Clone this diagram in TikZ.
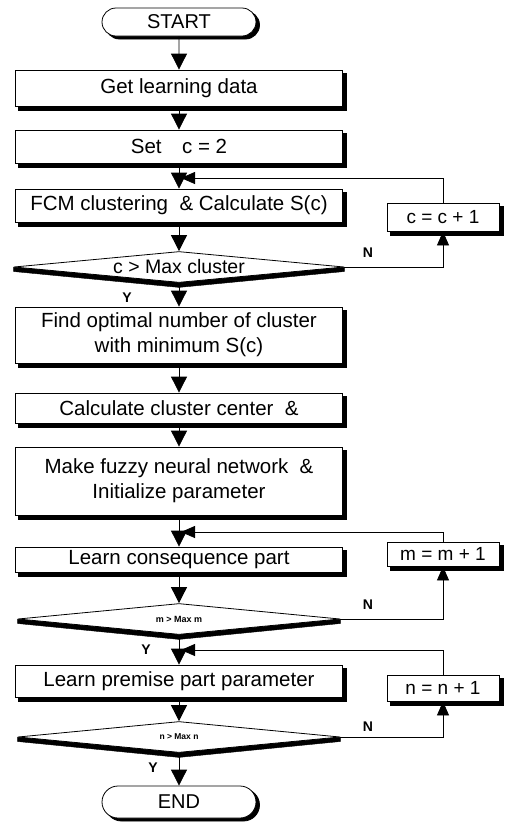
\documentclass[tikz,border=0pt]{standalone}
\usepackage{fontspec}
\setmainfont{Liberation Sans}
\usetikzlibrary{arrows.meta,shapes.geometric,shapes.misc,backgrounds}
\begin{document}
\begin{tikzpicture}[x=1pt,y=-1pt,
  proc/.style={draw,fill=white,line width=0.8pt,minimum width=327pt,inner sep=0pt,
    font=\fontsize{20.5}{25}\selectfont,align=center},
  sbox/.style={draw,fill=white,line width=0.8pt,minimum width=112pt,inner sep=0pt,
    font=\fontsize{19}{22}\selectfont},
  term/.style={draw,fill=white,line width=0.8pt,rounded rectangle,minimum width=154pt,
    inner sep=0pt,font=\fontsize{20}{23}\selectfont},
  dec/.style={draw,fill=white,line width=0.8pt,diamond,aspect=10,inner sep=0pt,
    minimum height=31pt},
  blackfill/.style={fill=black,draw=black},
  lab/.style={font=\fontsize{14}{16}\selectfont\bfseries,inner sep=0pt},
  arr/.style={line width=0.8pt,-{Triangle[width=16pt,length=16pt]}},
  larr/.style={line width=0.8pt,-{Triangle[width=12pt,length=14pt]}}
]
\path[use as bounding box] (0,0) rectangle (507,823);

\node[term,minimum height=28pt] (start) at (179,22) {START};
\node[proc,minimum height=36pt] (get) at (179,88) {Get learning data};
\node[proc,minimum height=33pt] (set) at (179,146.5) {Set\quad c = 2};
\node[proc,minimum height=33pt] (fcm) at (179,205.5) {FCM clustering \ \& Calculate S(c)};
\node[dec,minimum width=330pt,font=\fontsize{19.5}{22}\selectfont] (d1) at (179,267) {c > Max cluster};
\node[sbox,minimum height=28pt] (cinc) at (443,217) {c = c + 1};
\node[proc,minimum height=56pt] (find) at (179,335) {Find optimal number of cluster\\with minimum S(c)};
\node[proc,minimum height=30pt] (calc) at (179,408) {Calculate cluster center \ \&};
\node[proc,minimum height=68pt] (make) at (179,481) {Make fuzzy neural network \ \&\\Initialize parameter};
\node[proc,minimum height=25pt] (cons) at (179,559.5) {Learn consequence part};
\node[sbox,minimum height=24pt] (minc) at (443,554) {m = m + 1};
\node[dec,minimum width=322pt,font=\fontsize{9}{11}\selectfont\bfseries] (d2) at (179,619) {m > Max m};
\node[proc,minimum height=32pt] (prem) at (179,681) {Learn premise part parameter};
\node[sbox,minimum height=26pt] (ninc) at (443,688) {n = n + 1};
\node[dec,minimum width=322pt,font=\fontsize{8.5}{10}\selectfont\bfseries] (d3) at (179,737) {n > Max n};
\node[term,minimum height=32pt] (end) at (179,802) {END};

\begin{scope}[on background layer]
  \foreach \bx in {get,set,fcm,cinc,find,calc,make,cons,minc,prem,ninc}{
    \fill[blackfill] ([xshift=3.5pt,yshift=-3.5pt]\bx.south west) rectangle ([xshift=3.5pt,yshift=-3.5pt]\bx.north east);
  }
  \node[term,blackfill,minimum height=28pt] (starts) at ([xshift=3.5pt,yshift=-3pt]start.center) {\phantom{START}};
  \node[term,blackfill,minimum height=32pt] (ends) at ([xshift=3.5pt,yshift=-3pt]end.center) {\phantom{END}};
  \foreach \dd in {d1,d2,d3}{
    \fill[blackfill] ([yshift=-4.5pt]\dd.west) -- ([yshift=-4.5pt]\dd.south) -- ([yshift=-4.5pt]\dd.east)
      -- (\dd.east) -- (\dd.west) -- cycle;
  }
\end{scope}

\draw[arr] (start) -- (get);
\draw[arr] (get) -- (set);
\draw[arr] (set) -- (fcm);
\draw[arr] (fcm) -- (d1);
\draw[arr] (d1) -- (find);
\draw[arr] (find) -- (calc);
\draw[arr] (calc) -- (make);
\draw[arr] (make) -- (cons);
\draw[arr] (cons) -- (d2);
\draw[arr] (d2) -- (prem);
\draw[arr] (prem) -- (d3);
\draw[arr] (d3) -- (end);

\coordinate (j1) at (181,178);
\coordinate (j2) at (181,532);
\coordinate (j3) at (181,650);
\draw[larr] (cinc.north) |- (j1);
\draw[larr] (d1.east) -| (cinc.south);
\draw[larr] (minc.north) |- (j2);
\draw[larr] (d2.east) -| (minc.south);
\draw[larr] (ninc.north) |- (j3);
\draw[larr] (d3.east) -| (ninc.south);

\node[lab] (n1) at (368,253) {N};
\node[lab] (n2) at (368,605) {N};
\node[lab] (n3) at (368,727) {N};
\node[lab] (y1) at (127,298) {Y};
\node[lab] (y2) at (146,650) {Y};
\node[lab] (y3) at (153,768) {Y};
\end{tikzpicture}
\end{document}
